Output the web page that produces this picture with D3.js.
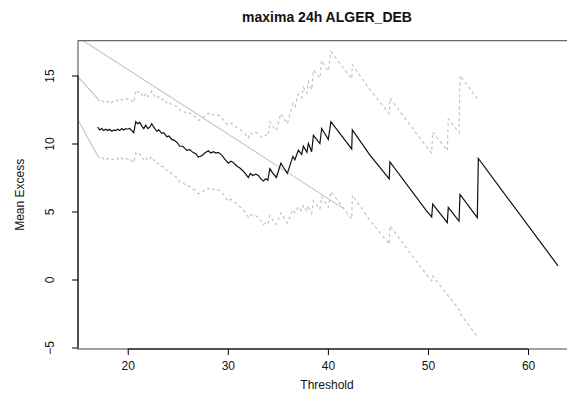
<!DOCTYPE html>
<html><head><meta charset="utf-8">
<script src="https://cdn.jsdelivr.net/npm/d3@7"></script>
<style>
html,body{margin:0;padding:0;background:#fff;}
svg{display:block;font-family:"Liberation Sans",Arial,Helvetica,sans-serif;}
</style></head>
<body>
<script>
// ---- data ----
const title = "maxima 24h ALGER_DEB";
const xLabel = "Threshold";
const yLabel = "Mean Excess";
const xLim = [15.03, 64.79];
const yLim = [-5.11, 17.56];
const xTicks = [20, 30, 40, 50, 60];
const yTicks = [-5, 0, 5, 10, 15];

const thresholds = [17.0,17.2,17.4,17.6,17.8,18.0,18.2,18.4,18.6,18.8,19.0,19.2,19.4,19.6,19.8,20.0,20.2,20.4,20.6,20.8,
21.0,21.2,21.4,21.6,21.8,22.0,22.2,22.4,22.6,22.9,23.1,23.4,23.6,23.9,24.1,24.4,24.6,24.9,25.2,25.5,
25.9,26.2,26.5,26.8,27.05,27.4,27.7,28.05,28.3,28.55,28.8,29.05,29.4,29.7,30.05,30.3,30.55,30.9,31.2,31.5,
31.8,32.05,32.25,32.5,32.8,33.05,33.3,33.55,33.8,34.0,34.2,34.5,34.85,35.3,35.6,35.95,36.5,36.7,37.05,37.38,
37.55,37.9,38.05,38.38,38.55,39.2,39.38,40.04,40.3,42.38,42.44,44.2,46.13,46.2,49.8,50.37,50.47,51.93,52.03,53.1,
53.2,54.93,55.03,63.0];

const meanExcess = [11.2,11.0,11.1,10.95,11.05,10.95,11.05,10.9,11.0,10.95,11.05,10.95,11.1,11.0,11.1,11.05,11.1,10.95,10.8,11.6,
11.45,11.55,11.3,11.1,11.35,11.1,11.2,11.45,11.2,10.9,11.0,10.75,10.8,10.5,10.55,10.3,10.25,10.1,9.8,9.8,
9.5,9.55,9.35,9.25,9.0,9.1,9.3,9.47,9.3,9.4,9.3,9.35,9.15,8.85,8.55,8.7,8.6,8.35,8.2,8.0,
7.75,7.5,7.8,7.65,7.75,7.65,7.4,7.25,7.4,7.3,8.15,7.8,7.5,8.55,8.2,7.8,9.05,8.8,9.5,9.2,
9.8,9.35,10.0,9.4,10.6,10.0,11.1,10.3,11.6,9.6,11.0,9.15,7.4,8.65,5.1,4.6,5.55,4.18,5.3,4.3,
6.26,4.55,8.9,1.0];

const upperCI = [13.3,13.1,13.2,13.05,13.15,13.05,13.15,13.0,13.15,13.1,13.2,13.1,13.25,13.2,13.3,13.25,13.3,13.15,13.0,13.9,
13.75,13.85,13.6,13.4,13.7,13.45,13.55,13.85,13.6,13.3,13.45,13.2,13.3,13.0,13.1,12.85,12.85,12.7,12.45,12.45,
12.15,12.25,12.05,11.95,11.7,11.8,12.0,12.22,12.05,12.15,12.05,12.1,11.9,11.6,11.35,11.5,11.4,11.15,11.05,10.85,
10.65,10.4,10.8,10.65,10.8,10.75,10.5,10.45,10.65,10.55,11.6,11.25,10.95,12.2,11.85,11.45,12.95,12.7,13.65,13.35,
14.15,13.7,14.55,13.95,15.4,14.8,16.1,15.3,16.75,14.75,15.8,13.95,12.2,13.35,9.8,9.3,10.85,9.48,11.8,10.8,
15.01,13.3];

const lowerCI = [9.1,8.9,9.0,8.85,8.95,8.85,8.95,8.8,8.85,8.8,8.9,8.8,8.95,8.8,8.9,8.85,8.9,8.75,8.6,9.3,
9.15,9.25,9.0,8.8,9.0,8.75,8.85,9.05,8.8,8.5,8.55,8.3,8.3,8.0,8.0,7.75,7.65,7.5,7.15,7.15,
6.85,6.85,6.65,6.55,6.3,6.4,6.6,6.72,6.55,6.65,6.55,6.6,6.4,6.1,5.75,5.9,5.8,5.55,5.35,5.15,
4.85,4.6,4.8,4.65,4.7,4.55,4.3,4.05,4.15,4.05,4.7,4.35,4.05,4.9,4.55,4.15,5.15,4.9,5.35,5.05,
5.45,5.0,5.45,4.85,5.8,5.2,6.1,5.3,6.45,4.45,6.2,4.35,2.6,3.95,0.4,-0.1,0.25,-1.12,-1.2,-2.2,
-2.49,-4.2];

// grey solid lead-in segments and the long grey straight line
const leadX = [14.5, 17.0];
const leadUpper = [15.33, 13.3];
const leadLower = [12.44, 9.1];
const diagX = [14.5, 41.54];
const diagY = [18.06, 5.23];

// ---- drawing ----
const W = 567, H = 398;
const plot = {left: 78, right: 576, top: 40.7, bottom: 349};

const svg = d3.select("body").append("svg").attr("width", W).attr("height", H);

const x = d3.scaleLinear().domain(xLim).range([plot.left, plot.right]);
const y = d3.scaleLinear().domain(yLim).range([plot.bottom, plot.top]);

svg.append("clipPath").attr("id", "clip").append("rect")
  .attr("x", plot.left).attr("y", plot.top)
  .attr("width", plot.right - plot.left).attr("height", plot.bottom - plot.top);

const g = svg.append("g").attr("clip-path", "url(#clip)");

const line = d3.line().x(d => x(d[0])).y(d => y(d[1]));
const zip = (a, b) => a.map((v, i) => [v, b[i]]);

// grey straight line
g.append("path").datum(zip(diagX, diagY)).attr("d", line)
  .attr("fill", "none").attr("stroke", "#c4c4c4").attr("stroke-width", 1.1);
// grey lead-ins
g.append("path").datum(zip(leadX, leadUpper)).attr("d", line)
  .attr("fill", "none").attr("stroke", "#c4c4c4").attr("stroke-width", 1.1);
g.append("path").datum(zip(leadX, leadLower)).attr("d", line)
  .attr("fill", "none").attr("stroke", "#c4c4c4").attr("stroke-width", 1.1);

// dashed confidence bounds
const ciX = thresholds.slice(0, upperCI.length);
[upperCI, lowerCI].forEach(arr => {
  g.append("path").datum(zip(ciX, arr)).attr("d", line)
    .attr("fill", "none").attr("stroke", "#bdbdbd").attr("stroke-width", 1.1)
    .attr("stroke-dasharray", "3,3");
});

// mean excess line
g.append("path").datum(zip(thresholds, meanExcess)).attr("d", line)
  .attr("fill", "none").attr("stroke", "#111").attr("stroke-width", 1.2)
  .attr("stroke-linejoin", "miter");

// box
svg.append("rect").attr("x", plot.left).attr("y", plot.top)
  .attr("width", plot.right - plot.left).attr("height", plot.bottom - plot.top)
  .attr("fill", "none").attr("stroke", "#444").attr("stroke-width", 1);

// x axis
const xAxis = svg.append("g").attr("transform", `translate(0,${plot.bottom})`)
  .call(d3.axisBottom(x).tickValues(xTicks).tickSize(6).tickPadding(6).tickFormat(d3.format("d")));
xAxis.select(".domain").remove();
xAxis.append("line").attr("x1", x(xTicks[0])).attr("x2", x(xTicks[xTicks.length-1]))
  .attr("stroke", "#000");
xAxis.selectAll(".tick line").attr("stroke", "#000");
xAxis.selectAll(".tick text").attr("font-size", 12).attr("fill", "#111")
  .attr("font-family", "Liberation Sans, Arial, sans-serif");

// y axis
const yAxis = svg.append("g").attr("transform", `translate(${plot.left},0)`)
  .call(d3.axisLeft(y).tickValues(yTicks).tickSize(6).tickFormat(d3.format("d")));
yAxis.select(".domain").remove();
yAxis.append("line").attr("y1", y(yTicks[0])).attr("y2", y(yTicks[yTicks.length-1]))
  .attr("stroke", "#000");
yAxis.selectAll(".tick line").attr("stroke", "#000");
yAxis.selectAll(".tick text")
  .attr("x", null).attr("dy", null)
  .attr("transform", "translate(-24,0) rotate(-90)")
  .attr("text-anchor", "middle").attr("font-size", 12).attr("fill", "#111")
  .attr("font-family", "Liberation Sans, Arial, sans-serif");

// titles
svg.append("text").attr("x", (plot.left + plot.right) / 2).attr("y", 22)
  .attr("text-anchor", "middle").attr("font-weight", "bold").attr("font-size", 14)
  .attr("fill", "#111").text(title);
svg.append("text").attr("x", (plot.left + plot.right) / 2).attr("y", 389)
  .attr("text-anchor", "middle").attr("font-size", 12).attr("fill", "#111").text(xLabel);
svg.append("text").attr("transform", `translate(24,${(plot.top + plot.bottom) / 2}) rotate(-90)`)
  .attr("text-anchor", "middle").attr("font-size", 12).attr("fill", "#111")
  .attr("font-family", "Liberation Sans Narrow, Liberation Sans, Arial, sans-serif")
  .text(yLabel);
</script>
</body></html>
